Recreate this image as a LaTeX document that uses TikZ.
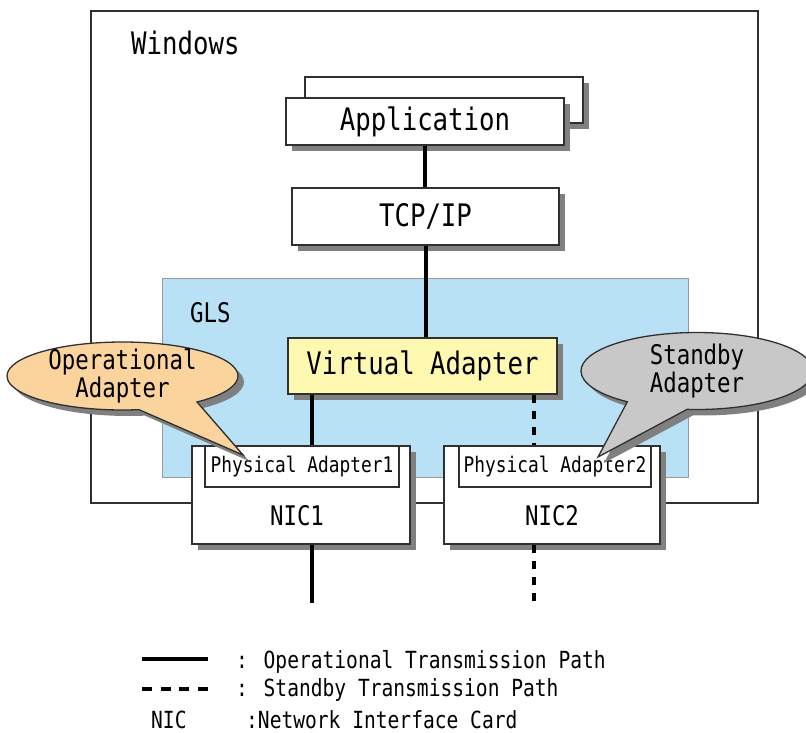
\documentclass[tikz,border=0pt]{standalone}
\usepackage{fontspec}
\usepackage{xcolor}
\usetikzlibrary{shapes.callouts,shadows}
\newfontfamily\gothic[FakeStretch=0.83]{DejaVu Sans Mono}
\definecolor{glsblue}{HTML}{B8E1F6}
\definecolor{vayellow}{HTML}{FFF8B0}
\definecolor{oporange}{HTML}{FAD49C}
\definecolor{sbgray}{HTML}{C8C8C8}
\definecolor{edge}{HTML}{303030}

\begin{document}
\begin{tikzpicture}[x=1pt, y=-1pt,
    box/.style={rectangle, draw=edge, line width=1.3pt, fill=white, inner sep=0pt},
    shadowed/.style={drop shadow={shadow xshift=6pt, shadow yshift=-6pt, fill=black!50, opacity=1}},
    oppath/.style={line width=4pt},
    sbpath/.style={line width=4pt, dash pattern=on 8pt off 8pt},
    bubble/.style={ellipse callout, draw=edge, line width=1.3pt, callout pointer arc=32, shadowed},
    big/.style={font=\gothic\fontsize{31}{31}\selectfont},
    mid/.style={font=\gothic\fontsize{27}{28}\selectfont},
    small/.style={font=\gothic\fontsize{21.5}{22}\selectfont},
    legend/.style={font=\gothic\fontsize{23.6}{24}\selectfont, inner sep=0pt}]
    \useasboundingbox (0,0) rectangle (806,733);

    \node[box, fill=none, minimum width=667pt, minimum height=492pt] (win) at (424.5,257) {};
    \node[big, inner sep=0pt, anchor=base west] (winlbl) at (131,55) {Windows};

    \node[box, shadowed, minimum width=278pt, minimum height=46pt] (appback) at (444,100) {};
    \node[box, shadowed, minimum width=278pt, minimum height=47pt, big] (app) at (425,121.5) {Application};
    \node[box, shadowed, minimum width=267pt, minimum height=57pt, big] (tcp) at (425.5,216.5) {TCP/IP};

    \node[rectangle, draw=black!40, line width=1pt, fill=glsblue, minimum width=526pt, minimum height=199pt] (gls) at (425,377.5) {};
    \node[mid, inner sep=0pt, anchor=base west] (glslbl) at (190,322) {GLS};
    \node[box, shadowed, fill=vayellow, minimum width=269pt, minimum height=56pt, big] (va) at (422.5,366) {Virtual Adapter};

    \node[box, shadowed, minimum width=218pt, minimum height=98pt] (nic1) at (301,495) {};
    \node[box, minimum width=194pt, minimum height=41pt, small] (pa1) at (302,466.5) {Physical Adapter1};
    \node[mid, inner sep=0pt, anchor=base] (nic1lbl) at (297,525) {NIC1};
    \node[box, shadowed, minimum width=216pt, minimum height=98pt] (nic2) at (552,495) {};
    \node[box, minimum width=192pt, minimum height=41pt, small] (pa2) at (555,466.5) {Physical Adapter2};
    \node[mid, inner sep=0pt, anchor=base] (nic2lbl) at (552,525) {NIC2};

    \coordinate (endA) at (312,603);
    \coordinate (endB) at (534,603);
    \draw[oppath] (app.south) -- (app.south |- tcp.north);
    \draw[oppath] (tcp.south) -- (tcp.south |- va.north);
    \draw[oppath] (va.south -| endA) -- (nic1.north -| endA);
    \draw[oppath] (nic1.south -| endA) -- (endA);
    \draw[sbpath] (va.south -| endB) -- (nic2.north -| endB);
    \draw[sbpath] (nic2.south -| endB) -- (endB);

    \coordinate (optip) at (243,455);
    \coordinate (sbtip) at (598,457);
    \node[bubble, fill=oporange, minimum width=231pt, minimum height=68pt, callout absolute pointer={(optip)}] (opcall) at (122.5,376) {};
    \node[mid, align=center] (optxt) at (opcall.center) {Operational\\Adapter};
    \node[bubble, fill=sbgray, minimum width=232pt, minimum height=77pt, callout absolute pointer={(sbtip)}] (sbcall) at (697,371) {};
    \node[mid, align=center] (sbtxt) at (sbcall.center) {Standby\\Adapter};

    \coordinate (lgA1) at (142,659);
    \coordinate (lgA2) at (208,659);
    \coordinate (lgB1) at (142,689);
    \coordinate (lgB2) at (208,689);
    \draw[oppath] (lgA1) -- (lgA2);
    \draw[sbpath, dash pattern=on 10pt off 8.7pt] (lgB1) -- (lgB2);
    \node[legend, anchor=base west] (lgAtxt) at (236,668) {: Operational Transmission Path};
    \node[legend, anchor=base west] (lgBtxt) at (236,696) {: Standby Transmission Path};
    \node[legend, anchor=base west] (lgCkey) at (151,728) {NIC};
    \node[legend, anchor=base west] (lgCtxt) at (246,728) {:Network Interface Card};
\end{tikzpicture}
\end{document}
